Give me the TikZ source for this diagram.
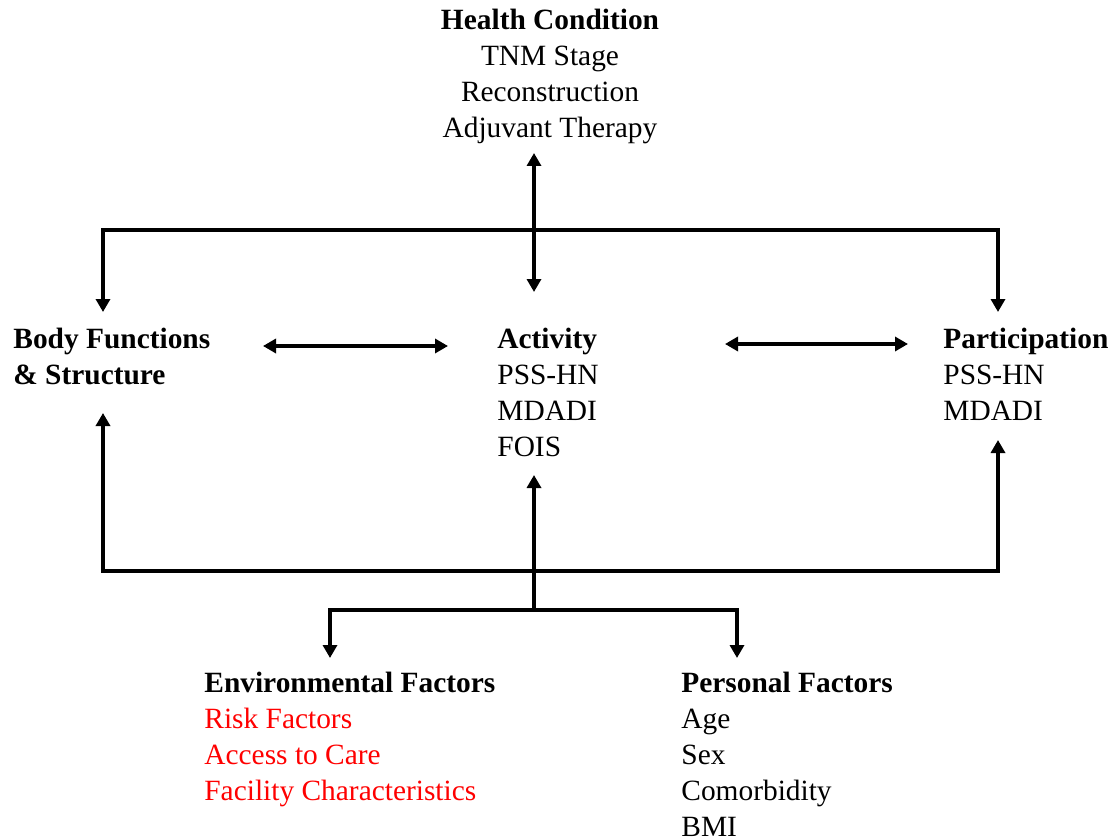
\documentclass[tikz,border=0pt]{standalone}
\usepackage{fontspec}
\setmainfont{Liberation Serif}
\usetikzlibrary{arrows.meta}
\begin{document}
\begin{tikzpicture}[x=0.5pt,y=-0.5pt,
  conn/.style={line width=2pt, line join=miter},
  arr/.style={conn, -{Triangle[length=6.5pt,width=7pt]}},
  darr/.style={conn, {Triangle[length=6.5pt,width=7pt]}-{Triangle[length=6.5pt,width=7pt]}},
  txt/.style={font=\fontsize{14.7}{18}\selectfont, inner sep=0pt, align=left, anchor=north west},
  redtxt/.style={text=red}
]
\useasboundingbox (0,0) rectangle (1120,840);

% text blocks
\node[txt, align=center, anchor=north] (hc) at (550,9)
  {\textbf{Health Condition}\\TNM Stage\\Reconstruction\\Adjuvant Therapy};
\node[txt] (bf) at (13,328) {\textbf{Body Functions}\\\textbf{\& Structure}};
\node[txt] (act) at (497,328) {\textbf{Activity}\\PSS-HN\\MDADI\\FOIS};
\node[txt] (par) at (943,328) {\textbf{Participation}\\PSS-HN\\MDADI};
\node[txt] (env) at (204,672) {\textbf{Environmental Factors}\\\textcolor{red}{Risk Factors}\\\textcolor{red}{Access to Care}\\\textcolor{red}{Facility Characteristics}};
\node[txt] (per) at (681,672) {\textbf{Personal Factors}\\Age\\Sex\\Comorbidity\\BMI};

% connector points
\coordinate (hcBot) at (534,153);
\coordinate (actTop) at (534,292);
\coordinate (tM) at (534,230);
\coordinate (tL) at (103,230);
\coordinate (tR) at (998,230);
\coordinate (bfTop) at (103,312);
\coordinate (parTop) at (998,312);
\coordinate (bfRight) at (263,346);
\coordinate (actLeft) at (448,346);
\coordinate (actRight) at (725,344);
\coordinate (parLeft) at (908,344);
\coordinate (bM) at (534,571);
\coordinate (bL) at (103,571);
\coordinate (bR) at (998,571);
\coordinate (bfBot) at (103,413);
\coordinate (parBot) at (998,440);
\coordinate (cB) at (534,610);
\coordinate (actBot) at (534,475);
\coordinate (eL) at (330,610);
\coordinate (pR) at (737,610);
\coordinate (envTop) at (330,658);
\coordinate (perTop) at (737,658);

% connectors
\draw[darr] (hcBot) -- (actTop);
\draw[arr] (tM) -- (tL) -- (bfTop);
\draw[arr] (tM) -- (tR) -- (parTop);
\draw[darr] (bfRight) -- (actLeft);
\draw[darr] (actRight) -- (parLeft);
\draw[arr] (bM) -- (bL) -- (bfBot);
\draw[arr] (bM) -- (bR) -- (parBot);
\draw[arr] (cB) -- (actBot);
\draw[arr] (cB) -- (eL) -- (envTop);
\draw[arr] (cB) -- (pR) -- (perTop);
\end{tikzpicture}
\end{document}
